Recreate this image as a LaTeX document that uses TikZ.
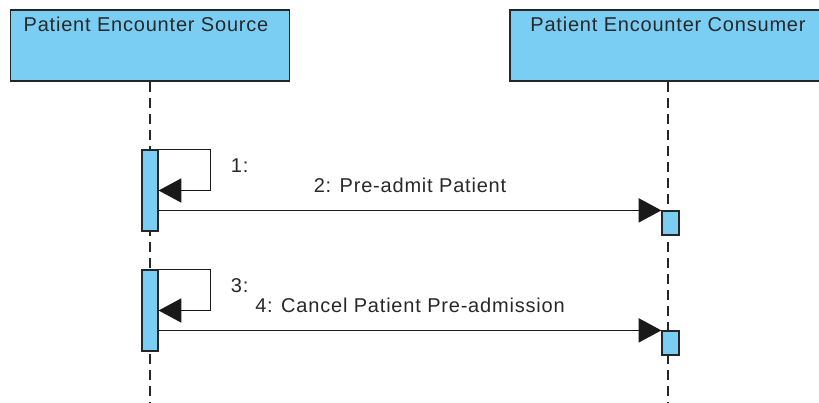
\documentclass[tikz,border=0pt]{standalone}
\usepackage{fontspec}
\newfontfamily\seqfont[LetterSpace=4]{Liberation Sans}
\usepackage{tikz}
\usetikzlibrary{arrows.meta,positioning}
\definecolor{lifeblue}{RGB}{122,206,244}
\definecolor{inkgray}{RGB}{40,40,40}

\begin{document}
\begin{tikzpicture}[
  x=0.75pt, y=-0.75pt,
  font=\seqfont\fontsize{15pt}{18pt}\selectfont,
  partbox/.style={draw=black!85, line width=1.1pt, fill=lifeblue, minimum height=53.25pt, inner sep=0pt},
  partlabel/.style={text=inkgray, inner sep=0pt, anchor=base},
  actbox/.style={draw=black!85, line width=0.9pt, fill=lifeblue, inner sep=0pt, minimum width=12pt},
  lifeline/.style={draw=black!85, line width=0.9pt, dash pattern=on 7.5pt off 4.5pt},
  msg/.style={-{Triangle[length=17pt, width=18pt]}, line width=1.2pt, draw=black!90},
  msglabel/.style={text=inkgray, inner sep=0pt}
]
\clip (0,0) rectangle (819,403);

\node[partbox, minimum width=209.25pt] (src) at (150,45.5) {};
\node[partbox, minimum width=237pt] (con) at (668,45.5) {};
\node[partlabel] (srclabel) at ([xshift=-3pt, yshift=-16.5pt]src.north) {Patient Encounter Source};
\node[partlabel] (conlabel) at ([yshift=-16.5pt]con.north) {Patient Encounter Consumer};

\draw[lifeline] (src.south) -- ++(0,330);
\draw[lifeline] (con.south) -- ++(0,330);

\node[actbox, minimum height=60.75pt] (act1) at (150,190.5) {};
\node[actbox, minimum height=18pt, minimum width=12.75pt] (act2) at (670.5,223) {};
\node[actbox, minimum height=60.75pt] (act3) at (150,310.5) {};
\node[actbox, minimum height=18pt, minimum width=12.75pt] (act4) at (670.5,343) {};

\draw[msg] (act1.north east) -- ++(52,0) |- (act1.east);
\node[msglabel, anchor=base west] (m1) at ([xshift=54pt, yshift=-17pt]act1.north east) {1:};
\draw[msg] (act1.east |- act2.north west) -- node[msglabel, anchor=base, yshift=13.5pt] (m2) {2: Pre-admit Patient} (act2.north west);

\draw[msg] (act3.north east) -- ++(52,0) |- (act3.east);
\node[msglabel, anchor=base west] (m3) at ([xshift=54pt, yshift=-17pt]act3.north east) {3:};
\draw[msg] (act3.east |- act4.north west) -- node[msglabel, anchor=base, yshift=13.5pt] (m4) {4: Cancel Patient Pre-admission} (act4.north west);
\end{tikzpicture}
\end{document}
